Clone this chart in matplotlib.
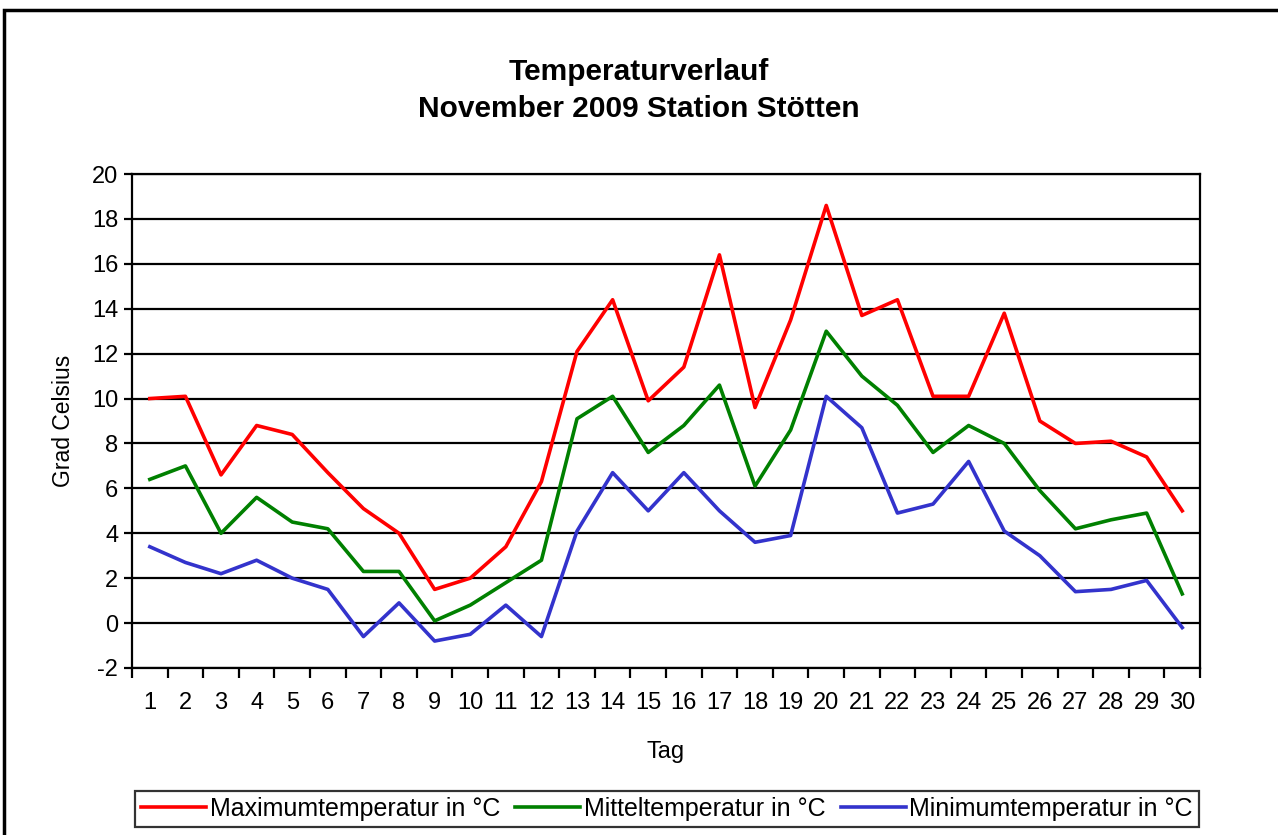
import numpy as np
import matplotlib
matplotlib.use("Agg")
import matplotlib.pyplot as plt
from matplotlib.patches import Rectangle

plt.rcParams['font.family'] = ['Liberation Sans', 'DejaVu Sans']
plt.rcParams['axes.unicode_minus'] = False

# Daily values, November 2009, Station Stoetten
days = list(range(1, 31))
t_max = [10.0, 10.1, 6.6, 8.8, 8.4, 6.7, 5.1, 4.0, 1.5, 2.0,
         3.4, 6.3, 12.1, 14.4, 9.9, 11.4, 16.4, 9.6, 13.5, 18.6,
         13.7, 14.4, 10.1, 10.1, 13.8, 9.0, 8.0, 8.1, 7.4, 5.0]
t_mean = [6.4, 7.0, 4.0, 5.6, 4.5, 4.2, 2.3, 2.3, 0.1, 0.8,
          1.8, 2.8, 9.1, 10.1, 7.6, 8.8, 10.6, 6.1, 8.6, 13.0,
          11.0, 9.7, 7.6, 8.8, 8.0, 5.9, 4.2, 4.6, 4.9, 1.3]
t_min = [3.4, 2.7, 2.2, 2.8, 2.0, 1.5, -0.6, 0.9, -0.8, -0.5,
         0.8, -0.6, 4.1, 6.7, 5.0, 6.7, 5.0, 3.6, 3.9, 10.1,
         8.7, 4.9, 5.3, 7.2, 4.1, 3.0, 1.4, 1.5, 1.9, -0.2]
y_ticks = list(range(-2, 21, 2))

labels = ['Maximumtemperatur in °C', 'Mitteltemperatur in °C', 'Minimumtemperatur in °C']
colors = ['#ff0000', '#008000', '#3333cc']

fs = 17

fig = plt.figure(figsize=(12.78, 8.35), dpi=100)
ax = fig.add_axes([0.1033, 0.2, 0.8357, 0.5916])

# horizontal grid
for y in y_ticks:
    ax.axhline(y, color='black', lw=1.6, zorder=1)

for vals, lab, col in zip([t_max, t_mean, t_min], labels, colors):
    ax.plot(days, vals, color=col, lw=2.6, label=lab, zorder=3)

ax.set_xlim(0.5, 30.5)
ax.set_ylim(-2, 20)
ax.set_yticks(y_ticks)
ax.set_xticks(np.arange(0.5, 31, 1))
ax.set_xticklabels([])
ax.set_xticks(days, minor=True)
ax.set_xticklabels([str(d) for d in days], minor=True)
ax.tick_params(axis='x', which='major', direction='out', length=7, width=1.6)
ax.tick_params(axis='x', which='minor', length=0, pad=17, labelsize=fs)
ax.tick_params(axis='y', direction='out', length=6, width=1.6, labelsize=fs, pad=4)
for s in ax.spines.values():
    s.set_linewidth(1.6)

ax.set_xlabel('Tag', fontsize=fs, labelpad=20)
ax.set_ylabel('Grad Celsius', fontsize=16.5, labelpad=12)

fig.text(0.5, 0.914, 'Temperaturverlauf', ha='center', va='center',
         fontsize=21.5, fontweight='bold')
fig.text(0.5, 0.869, 'November 2009 Station Stötten', ha='center', va='center',
         fontsize=21.5, fontweight='bold')

leg = fig.legend(loc='center', bbox_to_anchor=(0.522, 0.031), ncol=3, fontsize=18,
                 frameon=True, fancybox=False, edgecolor='black',
                 handlelength=2.6, handletextpad=0.15, columnspacing=0.6,
                 borderpad=0.25, borderaxespad=0)
leg.get_frame().set_linewidth(1.6)

# outer chart frame
fig.patches.append(Rectangle((0.003, -0.01), 1.05, 0.998, transform=fig.transFigure,
                             fill=False, edgecolor='black', lw=2.5))

fig.savefig('out.png', dpi=100)
